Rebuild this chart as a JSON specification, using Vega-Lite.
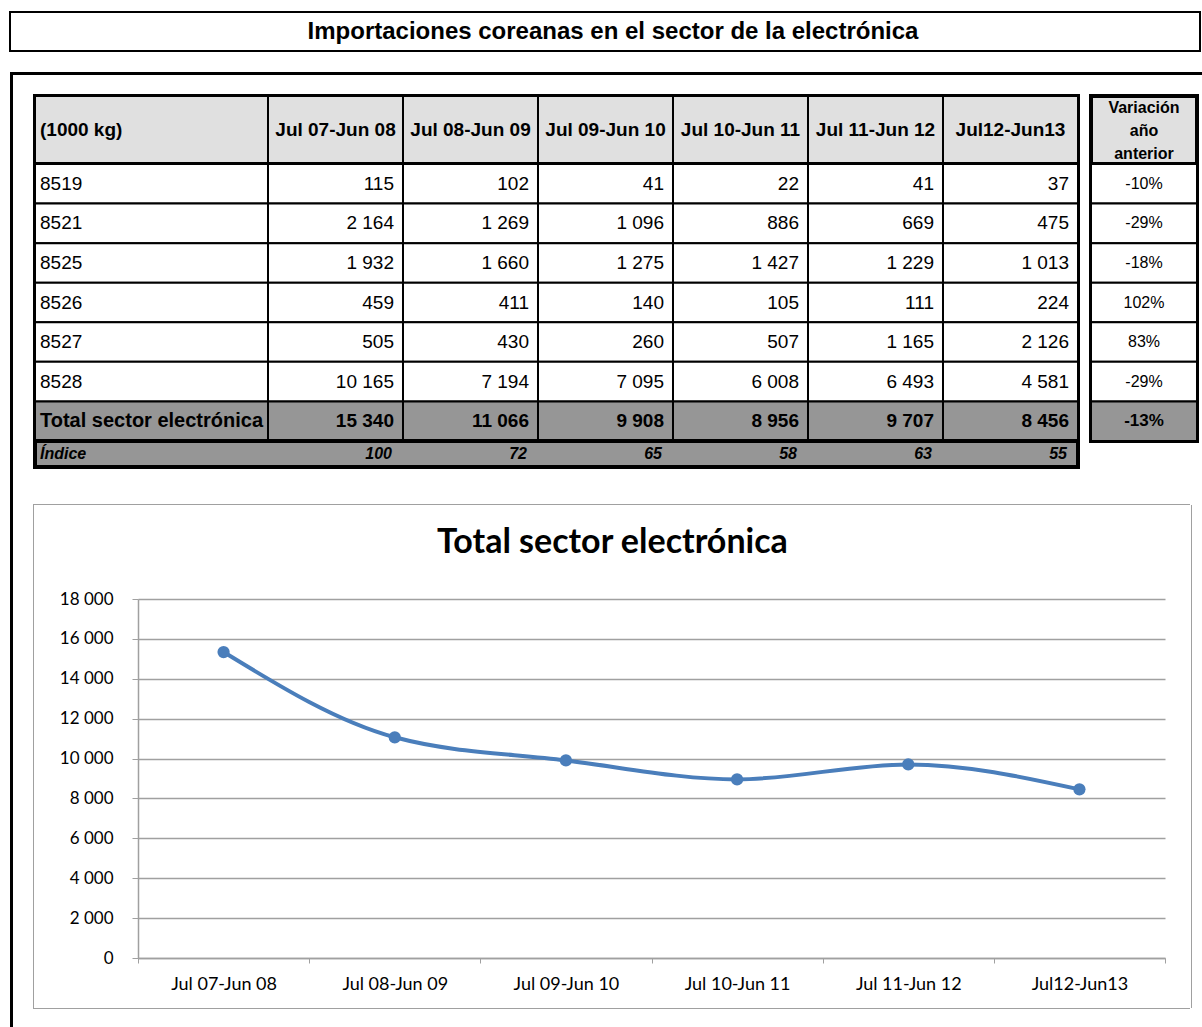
{
  "$schema": "https://vega.github.io/schema/vega-lite/v6.json",
  "padding": {"left": 9, "top": 11, "right": 0, "bottom": 0},
  "background": "white",
  "config": {
    "view": {"stroke": null},
    "font": "Liberation Sans",
    "text": {"font": "Liberation Sans", "color": "black"},
    "locale": {"number": {"decimal": ",", "thousands": " ", "grouping": [3], "currency": ["", " €"], "minus": "-"}}
  },
  "datasets": {
    "periods": [
      {"period": "Jul 07-Jun 08"}, {"period": "Jul 08-Jun 09"}, {"period": "Jul 09-Jun 10"},
      {"period": "Jul 10-Jun 11"}, {"period": "Jul 11-Jun 12"}, {"period": "Jul12-Jun13"}
    ],
    "rows": [
      {"row": "8519"}, {"row": "8521"}, {"row": "8525"}, {"row": "8526"}, {"row": "8527"}, {"row": "8528"},
      {"row": "Total sector electrónica"}
    ],
    "body": [
      {"row": "8519", "period": "Jul 07-Jun 08", "value": 115},
      {"row": "8519", "period": "Jul 08-Jun 09", "value": 102},
      {"row": "8519", "period": "Jul 09-Jun 10", "value": 41},
      {"row": "8519", "period": "Jul 10-Jun 11", "value": 22},
      {"row": "8519", "period": "Jul 11-Jun 12", "value": 41},
      {"row": "8519", "period": "Jul12-Jun13", "value": 37},
      {"row": "8521", "period": "Jul 07-Jun 08", "value": 2164},
      {"row": "8521", "period": "Jul 08-Jun 09", "value": 1269},
      {"row": "8521", "period": "Jul 09-Jun 10", "value": 1096},
      {"row": "8521", "period": "Jul 10-Jun 11", "value": 886},
      {"row": "8521", "period": "Jul 11-Jun 12", "value": 669},
      {"row": "8521", "period": "Jul12-Jun13", "value": 475},
      {"row": "8525", "period": "Jul 07-Jun 08", "value": 1932},
      {"row": "8525", "period": "Jul 08-Jun 09", "value": 1660},
      {"row": "8525", "period": "Jul 09-Jun 10", "value": 1275},
      {"row": "8525", "period": "Jul 10-Jun 11", "value": 1427},
      {"row": "8525", "period": "Jul 11-Jun 12", "value": 1229},
      {"row": "8525", "period": "Jul12-Jun13", "value": 1013},
      {"row": "8526", "period": "Jul 07-Jun 08", "value": 459},
      {"row": "8526", "period": "Jul 08-Jun 09", "value": 411},
      {"row": "8526", "period": "Jul 09-Jun 10", "value": 140},
      {"row": "8526", "period": "Jul 10-Jun 11", "value": 105},
      {"row": "8526", "period": "Jul 11-Jun 12", "value": 111},
      {"row": "8526", "period": "Jul12-Jun13", "value": 224},
      {"row": "8527", "period": "Jul 07-Jun 08", "value": 505},
      {"row": "8527", "period": "Jul 08-Jun 09", "value": 430},
      {"row": "8527", "period": "Jul 09-Jun 10", "value": 260},
      {"row": "8527", "period": "Jul 10-Jun 11", "value": 507},
      {"row": "8527", "period": "Jul 11-Jun 12", "value": 1165},
      {"row": "8527", "period": "Jul12-Jun13", "value": 2126},
      {"row": "8528", "period": "Jul 07-Jun 08", "value": 10165},
      {"row": "8528", "period": "Jul 08-Jun 09", "value": 7194},
      {"row": "8528", "period": "Jul 09-Jun 10", "value": 7095},
      {"row": "8528", "period": "Jul 10-Jun 11", "value": 6008},
      {"row": "8528", "period": "Jul 11-Jun 12", "value": 6493},
      {"row": "8528", "period": "Jul12-Jun13", "value": 4581},
      {"row": "Total sector electrónica", "period": "Jul 07-Jun 08", "value": 15340},
      {"row": "Total sector electrónica", "period": "Jul 08-Jun 09", "value": 11066},
      {"row": "Total sector electrónica", "period": "Jul 09-Jun 10", "value": 9908},
      {"row": "Total sector electrónica", "period": "Jul 10-Jun 11", "value": 8956},
      {"row": "Total sector electrónica", "period": "Jul 11-Jun 12", "value": 9707},
      {"row": "Total sector electrónica", "period": "Jul12-Jun13", "value": 8456}
    ],
    "index": [
      {"period": "Jul 07-Jun 08", "index": 100}, {"period": "Jul 08-Jun 09", "index": 72},
      {"period": "Jul 09-Jun 10", "index": 65}, {"period": "Jul 10-Jun 11", "index": 58},
      {"period": "Jul 11-Jun 12", "index": 63}, {"period": "Jul12-Jun13", "index": 55}
    ],
    "variation": [
      {"row": "8519", "change": -0.10}, {"row": "8521", "change": -0.29}, {"row": "8525", "change": -0.18},
      {"row": "8526", "change": 1.02}, {"row": "8527", "change": 0.83}, {"row": "8528", "change": -0.29},
      {"row": "Total sector electrónica", "change": -0.13}
    ]
  },
  "spacing": 20,
  "vconcat": [
    {
      "width": 1190, "height": 39,
      "view": {"stroke": "black", "strokeWidth": 2},
      "data": {"values": [{"title": "Importaciones coreanas en el sector de la electrónica"}]},
      "mark": {"type": "text", "fontSize": 24, "fontWeight": "bold", "dx": 8},
      "encoding": {"text": {"field": "title", "type": "nominal"}}
    },
    {
      "spacing": 0,
      "vconcat": [
        {"width": 1193, "height": 3, "view": {"fill": "black"}, "data": {"values": []}, "mark": "text"},
        {
          "spacing": 19,
          "hconcat": [
            {"width": 3, "height": 952, "view": {"fill": "black"}, "data": {"values": []}, "mark": "text"},
            {
              "spacing": 17,
              "vconcat": [
                {"width": 1, "height": 1, "data": {"values": []}, "mark": "text"},
                {
                  "spacing": 35,
                  "vconcat": [
                    {
                      "spacing": -2,
                      "hconcat": [
                        {"width": 1, "height": 1, "data": {"values": []}, "mark": "text"},
                        {
                          "spacing": 7,
                          "hconcat": [
                            {
                              "spacing": 0, "bounds": "flush",
                              "vconcat": [
                                {
                                  "width": 1043, "height": 68,
                                  "view": {"fill": "#e0e0e0", "stroke": "black", "strokeWidth": 4},
                                  "resolve": {"scale": {"x": "independent"}},
                                  "layer": [
                                    {"data": {"values": [{"label": "(1000 kg)"}]},
                                     "mark": {"type": "rect", "fill": "#e0e0e0", "stroke": "black", "strokeWidth": 2}, "encoding": {}},
                                    {"data": {"values": [{"label": "(1000 kg)"}]},
                                     "mark": {"type": "text", "align": "left", "dx": 5, "fontSize": 19, "fontWeight": "bold"},
                                     "encoding": {"x": {"field": "label", "type": "nominal", "axis": null, "scale": {"type": "band", "paddingInner": 0, "paddingOuter": 0}, "bandPosition": 0}, "text": {"field": "label", "type": "nominal"}}},
                                    {"data": {"name": "periods"},
                                     "mark": {"type": "rect", "fill": "#e0e0e0", "stroke": "black", "strokeWidth": 2},
                                     "encoding": {"x": {"field": "period", "type": "nominal", "sort": null, "axis": null, "scale": {"type": "band", "paddingInner": 0, "paddingOuter": 0.86296, "align": 1}}}},
                                    {"data": {"name": "periods"},
                                     "mark": {"type": "text", "fontSize": 19, "fontWeight": "bold"},
                                     "encoding": {"x": {"field": "period", "type": "nominal", "sort": null, "axis": null, "scale": {"type": "band", "paddingInner": 0, "paddingOuter": 0.86296, "align": 1}}, "text": {"field": "period", "type": "nominal"}}}
                                  ]
                                },
                                {
                                  "width": 1043, "height": 277,
                                  "view": {"stroke": "black", "strokeWidth": 4},
                                  "encoding": {"y": {"field": "row", "type": "nominal", "sort": null, "axis": null,
                                    "scale": {"type": "band", "paddingInner": 0, "paddingOuter": 0, "domain": ["8519", "8521", "8525", "8526", "8527", "8528", "Total sector electrónica"]}}},
                                  "resolve": {"scale": {"x": "independent"}},
                                  "layer": [
                                    {"data": {"name": "rows"},
                                     "mark": {"type": "rect", "stroke": "black", "strokeWidth": 2},
                                     "encoding": {"fill": {"condition": {"test": "datum.row === 'Total sector electrónica'", "value": "#969696"}, "value": "white"}}},
                                    {"data": {"name": "rows"},
                                     "transform": [{"filter": "datum.row !== 'Total sector electrónica'"}],
                                     "mark": {"type": "text", "align": "left", "dx": 5, "fontSize": 19},
                                     "encoding": {"x": {"datum": "(1000 kg)", "type": "nominal", "axis": null, "scale": {"type": "band", "paddingInner": 0, "paddingOuter": 0}, "bandPosition": 0}, "text": {"field": "row", "type": "nominal"}}},
                                    {"data": {"name": "rows"},
                                     "transform": [{"filter": "datum.row === 'Total sector electrónica'"}],
                                     "mark": {"type": "text", "align": "left", "dx": 5, "fontSize": 20, "fontWeight": "bold"},
                                     "encoding": {"x": {"datum": "(1000 kg)", "type": "nominal", "axis": null, "scale": {"type": "band", "paddingInner": 0, "paddingOuter": 0}, "bandPosition": 0}, "text": {"field": "row", "type": "nominal"}}},
                                    {"data": {"name": "body"},
                                     "mark": {"type": "rect", "stroke": "black", "strokeWidth": 2},
                                     "encoding": {"x": {"field": "period", "type": "nominal", "sort": null, "axis": null, "scale": {"type": "band", "paddingInner": 0, "paddingOuter": 0.86296, "align": 1}},
                                                  "fill": {"condition": {"test": "datum.row === 'Total sector electrónica'", "value": "#969696"}, "value": "white"}}},
                                    {"data": {"name": "body"},
                                     "transform": [{"filter": "datum.row !== 'Total sector electrónica'"}],
                                     "mark": {"type": "text", "align": "right", "dx": -9, "fontSize": 19},
                                     "encoding": {"x": {"field": "period", "type": "nominal", "sort": null, "axis": null, "scale": {"type": "band", "paddingInner": 0, "paddingOuter": 0.86296, "align": 1}, "bandPosition": 1},
                                                  "text": {"field": "value", "type": "quantitative", "format": ",.0f"}}},
                                    {"data": {"name": "body"},
                                     "transform": [{"filter": "datum.row === 'Total sector electrónica'"}],
                                     "mark": {"type": "text", "align": "right", "dx": -9, "fontSize": 19, "fontWeight": "bold"},
                                     "encoding": {"x": {"field": "period", "type": "nominal", "sort": null, "axis": null, "scale": {"type": "band", "paddingInner": 0, "paddingOuter": 0.86296, "align": 1}, "bandPosition": 1},
                                                  "text": {"field": "value", "type": "quantitative", "format": ",.0f"}}}
                                  ]
                                },
                                {
                                  "width": 1043, "height": 26,
                                  "view": {"fill": "#969696", "stroke": "black", "strokeWidth": 4},
                                  "resolve": {"scale": {"x": "independent"}},
                                  "layer": [
                                    {"data": {"values": [{"label": "Índice"}]},
                                     "mark": {"type": "text", "align": "left", "dx": 5, "fontSize": 16, "fontWeight": "bold", "fontStyle": "italic"},
                                     "encoding": {"x": {"field": "label", "type": "nominal", "axis": null, "scale": {"type": "band", "paddingInner": 0, "paddingOuter": 0}, "bandPosition": 0}, "text": {"field": "label", "type": "nominal"}}},
                                    {"data": {"name": "index"},
                                     "mark": {"type": "text", "align": "right", "dx": -11, "fontSize": 16, "fontWeight": "bold", "fontStyle": "italic"},
                                     "encoding": {"x": {"field": "period", "type": "nominal", "sort": null, "axis": null, "scale": {"type": "band", "paddingInner": 0, "paddingOuter": 0.86296, "align": 1}, "bandPosition": 1},
                                                  "text": {"field": "index", "type": "quantitative", "format": ",.0f"}}}
                                  ]
                                }
                              ]
                            },
                            {
                              "spacing": 0, "bounds": "flush",
                              "vconcat": [
                                {
                                  "width": 106, "height": 68,
                                  "view": {"fill": "#e0e0e0", "stroke": "black", "strokeWidth": 4},
                                  "data": {"values": [{"label": "Variación\naño\nanterior"}]},
                                  "mark": {"type": "text", "fontSize": 16, "fontWeight": "bold", "lineBreak": "\n", "lineHeight": 23, "dy": -22},
                                  "encoding": {"text": {"field": "label", "type": "nominal"}}
                                },
                                {
                                  "width": 106, "height": 277,
                                  "view": {"stroke": "black", "strokeWidth": 4},
                                  "data": {"name": "variation"},
                                  "encoding": {"y": {"field": "row", "type": "nominal", "sort": null, "axis": null, "scale": {"type": "band", "paddingInner": 0, "paddingOuter": 0}}},
                                  "layer": [
                                    {"mark": {"type": "rect", "stroke": "black", "strokeWidth": 2},
                                     "encoding": {"fill": {"condition": {"test": "datum.row === 'Total sector electrónica'", "value": "#969696"}, "value": "white"}}},
                                    {"transform": [{"filter": "datum.row !== 'Total sector electrónica'"}],
                                     "mark": {"type": "text", "fontSize": 16},
                                     "encoding": {"text": {"field": "change", "type": "quantitative", "format": ".0%"}}},
                                    {"transform": [{"filter": "datum.row === 'Total sector electrónica'"}],
                                     "mark": {"type": "text", "fontSize": 17, "fontWeight": "bold"},
                                     "encoding": {"text": {"field": "change", "type": "quantitative", "format": ".0%"}}}
                                  ]
                                }
                              ]
                            }
                          ]
                        }
                      ]
                    },
                    {
                      "spacing": 0,
                      "vconcat": [
                        {"width": 1157, "height": 1, "view": {"fill": "#a0a0a0"}, "data": {"values": []}, "mark": "text"},
                        {
                          "spacing": 25,
                          "hconcat": [
                            {"width": 1, "height": 503, "view": {"fill": "#a0a0a0"}, "data": {"values": []}, "mark": "text"},
                            {
                              "spacing": 20,
                              "vconcat": [
                                {"width": 1, "height": 1, "data": {"values": []}, "mark": "text"},
                                {
                                  "width": 1027, "height": 359,
                                  "data": {"name": "body"},
                                  "transform": [{"filter": "datum.row === 'Total sector electrónica'"}],
                                  "title": {"text": "Total sector electrónica", "font": "Lato", "fontSize": 34, "fontWeight": "bold", "color": "black", "anchor": "middle", "frame": "bounds", "offset": 30},
                                  "encoding": {
                                    "x": {"field": "period", "type": "nominal", "sort": null,
                                          "scale": {"type": "band", "paddingInner": 0, "paddingOuter": 0},
                                          "axis": {"title": null, "labelAngle": 0, "labelFont": "Lato", "labelFontSize": 18, "labelColor": "black", "labelPadding": 12, "tickBand": "extent", "tickSize": 5, "tickColor": "#a0a0a0", "domainColor": "#a0a0a0", "domainWidth": 1.5, "grid": false}},
                                    "y": {"field": "value", "type": "quantitative", "scale": {"domain": [0, 18000]},
                                          "axis": {"title": null, "values": [0, 2000, 4000, 6000, 8000, 10000, 12000, 14000, 16000, 18000], "format": ",d", "labelFont": "Lato", "labelFontSize": 17, "labelColor": "black", "labelPadding": 19, "tickSize": 6, "tickColor": "#a0a0a0", "domainColor": "#a0a0a0", "domainWidth": 1.5, "gridColor": "#a0a0a0", "gridWidth": 1.5, "grid": true}}
                                  },
                                  "layer": [
                                    {"mark": {"type": "line", "interpolate": "monotone", "color": "#4a7ebb", "strokeWidth": 4}, "encoding": {}},
                                    {"mark": {"type": "point", "filled": true, "size": 150, "color": "#4a7ebb", "opacity": 1}, "encoding": {}}
                                  ]
                                }
                              ]
                            },
                            {"width": 1, "height": 503, "view": {"fill": "#a0a0a0"}, "data": {"values": []}, "mark": "text"}
                          ]
                        },
                        {"width": 1157, "height": 1, "view": {"fill": "#a0a0a0"}, "data": {"values": []}, "mark": "text"}
                      ]
                    }
                  ]
                }
              ]
            }
          ]
        }
      ]
    }
  ]
}
